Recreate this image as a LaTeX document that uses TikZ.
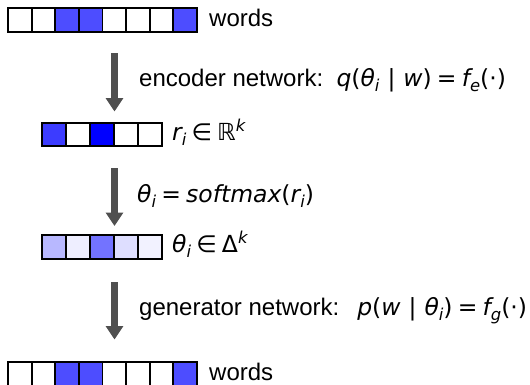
\documentclass[tikz,border=0pt]{standalone}
\usepackage{fontspec}
\setmainfont{Liberation Sans}
\newfontfamily\mfont{DejaVu Sans}
\usetikzlibrary{arrows.meta}

% colours of the cells
\definecolor{wblue}{HTML}{4D4DFF}
\definecolor{rA}{HTML}{3C3CFF}
\definecolor{rC}{HTML}{0000FF}
\definecolor{tA}{HTML}{B8B8FF}
\definecolor{tB}{HTML}{EEEEFF}
\definecolor{tC}{HTML}{7373FF}
\definecolor{tD}{HTML}{DEDEFF}
\definecolor{tE}{HTML}{F2F2FF}
\definecolor{arrowgray}{HTML}{4F4F4F}

% math-like pieces set in DejaVu Sans
\newcommand\mvar[1]{{\itshape #1}}
\newcommand\lowidx[1]{\raisebox{-0.22em}{\fontsize{16.4}{17}\selectfont\itshape #1}}
\newcommand\highidx[1]{\raisebox{0.36em}{\fontsize{16.4}{17}\selectfont\itshape #1}}
\newcommand\rel[1]{\hspace{0.22em}#1\hspace{0.22em}}
\newcommand\given[1]{\hspace{0.34em}#1\hspace{0.34em}}

\begin{document}
\begin{tikzpicture}[x=1pt,y=-1pt,
  cell/.style={draw=black,line width=1.8pt,minimum width=#1,minimum height=23.6pt,inner sep=0pt,outer sep=0pt},
  cell/.default=23.6pt,
  lbl/.style={anchor=base west,inner sep=0pt,font=\fontsize{24}{28}\selectfont},
  mlbl/.style={anchor=base west,inner sep=0pt,font=\fontsize{23.5}{28}\selectfont\mfont},
  flow/.style={draw=arrowgray,line width=6.5pt,-{Triangle[width=17pt,length=13.5pt]}}]
\useasboundingbox (0,0) rectangle (530,384);

% word vector (input)
\foreach \c [count=\i] in {white,white,wblue,wblue,white,white,white,wblue}
  \node[cell,fill=\c] (in\i) at ({8+11.8+(\i-1)*23.6},20) {};
\node[lbl] (inlbl) at (209,26) {words};

% encoder arrow
\coordinate (a1s) at (114.5,53);
\coordinate (a1e) at (114.5,111.5);
\draw[flow] (a1s) -- (a1e);
\node[lbl] (enc) at (139,86) {encoder network:\hspace{0.55em}{\mfont\fontsize{23.5}{28}\selectfont
  \mvar{q}(\mvar{θ}\lowidx{i}\given{|}\mvar{w})\rel{=}\mvar{f}\lowidx{e}(·)}};

% r vector
\foreach \c [count=\i] in {rA,white,rC,white,white}
  \node[cell=24pt,fill=\c] (r\i) at ({42+12+(\i-1)*24},134.5) {};
\node[mlbl] (rlbl) at (172,140) {\mvar{r}\lowidx{i}\rel{∈}ℝ\highidx{k}};

% softmax arrow
\coordinate (a2s) at (114.5,168);
\coordinate (a2e) at (114.5,226);
\draw[flow] (a2s) -- (a2e);
\node[mlbl] (smx) at (137,202) {\mvar{θ}\lowidx{i}\rel{=}\mvar{softmax}(\mvar{r}\lowidx{i})};

% theta vector
\foreach \c [count=\i] in {tA,tB,tC,tD,tE}
  \node[cell=24pt,fill=\c] (t\i) at ({42+12+(\i-1)*24},247) {};
\node[mlbl] (tlbl) at (172,252) {\mvar{θ}\lowidx{i}\rel{∈}Δ\highidx{k}};

% generator arrow
\coordinate (a3s) at (114.5,282);
\coordinate (a3e) at (114.5,339.5);
\draw[flow] (a3s) -- (a3e);
\node[lbl] (gen) at (139,315) {generator network:\hspace{0.75em}{\mfont\fontsize{23.5}{28}\selectfont
  \mvar{p}(\mvar{w}\given{|}\mvar{θ}\lowidx{i})\rel{=}\mvar{f}\lowidx{g}(·)}};

% word vector (output)
\foreach \c [count=\i] in {white,white,wblue,wblue,white,white,white,wblue}
  \node[cell,fill=\c] (out\i) at ({8+11.8+(\i-1)*23.6},374) {};
\node[lbl] (outlbl) at (209,380) {words};
\end{tikzpicture}
\end{document}
